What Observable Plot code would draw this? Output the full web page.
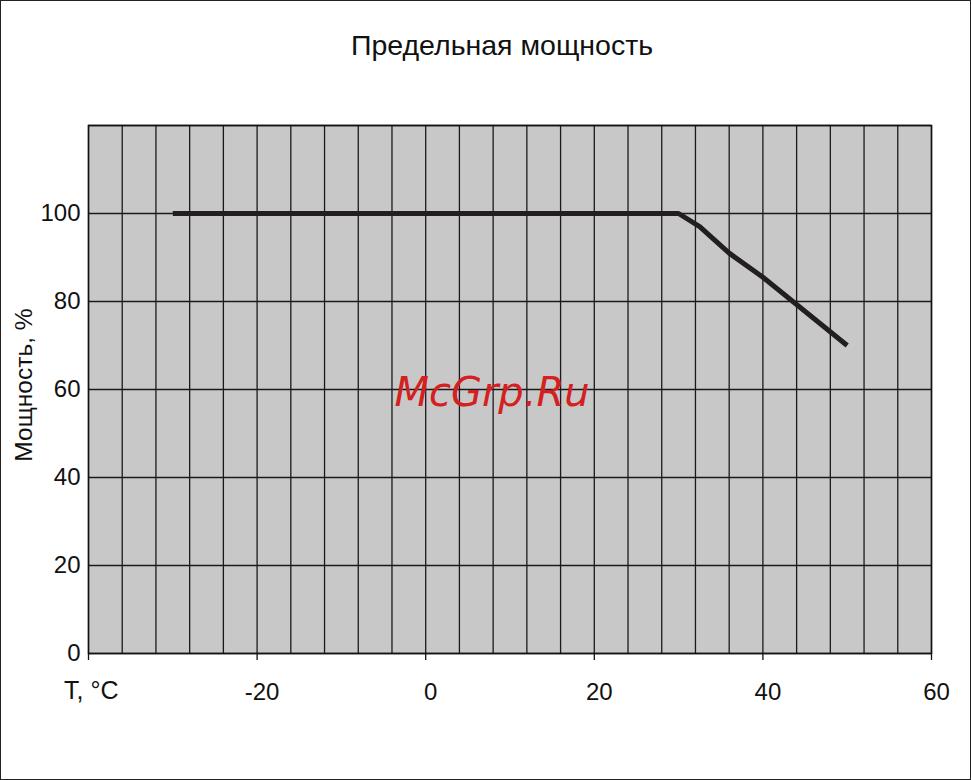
<!DOCTYPE html>
<html><head><meta charset="utf-8">
<script src="https://cdn.jsdelivr.net/npm/d3@7"></script>
<script src="https://cdn.jsdelivr.net/npm/@observablehq/plot@0.6"></script>
<style>
body{margin:0;background:#fff;font-family:"Liberation Sans",Arial,sans-serif;color:#111;}
#wrap{position:relative;width:971px;height:780px;box-sizing:border-box;border:1px solid #222;background:#fff;overflow:hidden;}
#title{position:absolute;left:33px;right:0;top:27px;line-height:34px;text-align:center;font-size:28.5px;}
#chart{position:absolute;left:0;top:89px;}
#ylab{position:absolute;left:-127px;top:368px;width:300px;line-height:32px;text-align:center;font-size:24.5px;transform:rotate(-90deg);}
#xlab{position:absolute;left:63px;top:673px;line-height:32px;font-size:25px;}
#wm{position:absolute;left:291px;top:367px;width:400px;line-height:48px;text-align:center;font-family:"DejaVu Sans",sans-serif;font-size:40px;font-style:italic;color:#d42020;}
</style></head><body>
<div id="wrap">
 <div id="title">Предельная мощность</div>
 <div id="chart"></div>
 <div id="ylab">Мощность, %</div>
 <div id="xlab">T, °C</div>
 <div id="wm">McGrp.Ru</div>
</div>
<script>
const temperature = [-30, 30, 32.5, 36, 40, 50];
const power = [100, 100, 97, 91, 85.5, 70];
const xTicks = [-40, -20, 0, 20, 40, 60];
const xTickLabels = ["", "-20", "0", "20", "40", "60"];
const xGrid = [-40, -36, -32, -28, -24, -20, -16, -12, -8, -4, 0, 4, 8, 12, 16, 20, 24, 28, 32, 36, 40, 44, 48, 52, 56, 60];
const yTicks = [0, 20, 40, 60, 80, 100];
const yGrid = [0, 20, 40, 60, 80, 100, 120];

const data = temperature.map((t, i) => ({t, p: power[i]}));

const plot = Plot.plot({
  width: 969, height: 689,
  marginLeft: 87, marginRight: 39, marginTop: 35, marginBottom: 126,
  style: {fontFamily: '"Liberation Sans", Arial, sans-serif', fontSize: "24px", color: "#111", background: "transparent"},
  x: {domain: [-40, 60]},
  y: {domain: [0, 120]},
  marks: [
    Plot.frame({fill: "#c8c8c8"}),
    Plot.ruleX(xGrid, {stroke: "#1a1a1a", strokeWidth: 1.3}),
    Plot.ruleY(yGrid, {stroke: "#1a1a1a", strokeWidth: 1.3}),
    Plot.axisX({ticks: xTicks, tickSize: 7, tickFormat: () => "", label: null, stroke: "#111", strokeWidth: 1.3}),
    Plot.axisX({ticks: xTicks, tickSize: 0, tickPadding: 29, dx: 5, tickFormat: d => xTickLabels[xTicks.indexOf(d)], label: null}),
    Plot.axisY({ticks: yTicks, tickSize: 0, tickPadding: 8, tickFormat: d => String(d), label: null}),
    Plot.line(data, {x: "t", y: "p", stroke: "#231f20", strokeWidth: 5, strokeLinecap: "butt", strokeLinejoin: "round"}),
    Plot.frame({stroke: "#111", strokeWidth: 1.5})
  ]
});
document.getElementById("chart").appendChild(plot);
</script>
</body></html>
